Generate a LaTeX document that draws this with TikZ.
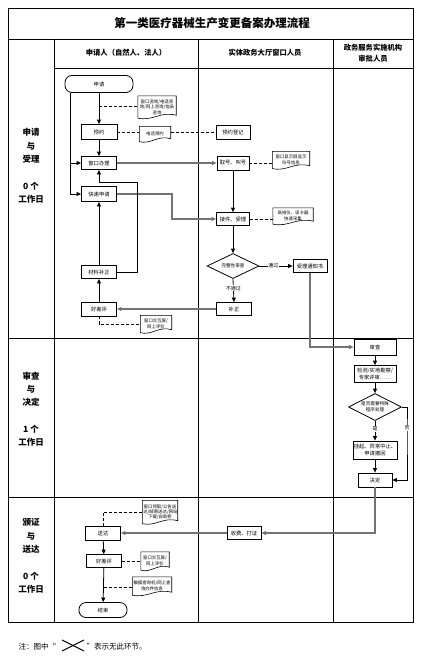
\documentclass[tikz,border=0pt]{standalone}
\usepackage{fontspec}
\setmainfont{Noto Sans CJK SC}
\usetikzlibrary{shapes.geometric,arrows.meta,calc}
\newcommand{\myfs}[2]{\fontsize{#1pt}{#2pt}\selectfont}
\newcommand{\docshape}[1]{\draw[line width=0.6pt] (#1.north west) -- (#1.north east) -- ($(#1.south east)+(0,-3)$) .. controls ($(#1.south)+(3,-7)$) and ($(#1.south)+(-4,3)$) .. (#1.south west) -- cycle;}
\begin{document}
\begin{tikzpicture}[x=1pt,y=-1pt,
  tbl/.style={line width=0.9pt},
  box/.style={draw,line width=0.8pt,inner sep=0pt,align=center,font=\myfs{5.3}{6.6}},
  term/.style={box,rounded corners=7pt},
  dia/.style={draw,diamond,aspect=2,line width=0.8pt,inner sep=0pt,align=center,font=\myfs{4.6}{5.8}},
  doc/.style={inner xsep=0.8pt,inner ysep=1pt,align=center,font=\myfs{4.4}{5.4}},
  arr/.style={line width=0.8pt,-{Triangle[length=4.5pt,width=4pt]}},
  garr/.style={line width=1.1pt,draw=black!55,-{Triangle[length=4.5pt,width=4pt,fill=black]}},
  dsh/.style={line width=0.7pt,dash pattern=on 3pt off 2pt},
  lbl/.style={fill=white,inner sep=0.6pt,font=\myfs{5}{6}},
  lane/.style={align=center,font=\bfseries\myfs{8.5}{13.3}},
  head/.style={align=center,font=\bfseries\myfs{7.3}{11}}]
\useasboundingbox (0,0) rectangle (424,661);
% table
\draw[tbl] (8,8) rectangle (413,622);
\draw[tbl] (8,39) -- (413,39);
\draw[tbl] (54,68) -- (413,68);
\draw[tbl] (8,338) -- (413,338);
\draw[tbl] (8,497) -- (413,497);
\draw[tbl] (54,39) -- (54,622);
\draw[tbl] (198,39) -- (198,622);
\draw[tbl] (333,39) -- (333,622);
\node[font=\bfseries\myfs{11.5}{13}] (title) at (212,23) {第一类医疗器械生产变更备案办理流程};
\node[head] (h1) at (126,53) {申请人（自然人、法人）};
\node[head] (h2) at (265,53) {实体政务大厅窗口人员};
\node[head] (h3) at (373,53) {政务服务实施机构\\审批人员};
\node[lane] (l1) at (31,166) {申请\\与\\受理\\[13.3pt]0 个\\工作日};
\node[lane] (l2) at (31,409) {审查\\与\\决定\\[13.3pt]1 个\\工作日};
\node[lane] (l3) at (31,556) {颁证\\与\\送达\\[13.3pt]0 个\\工作日};
% row 1 nodes
\node[term,minimum width=68pt,minimum height=17pt] (apply) at (99,84) {申请};
\node[doc,minimum height=22pt,text width=36.4pt] (dq) at (157,107) {窗口咨询/电话咨\\询/网上咨询/信函\\咨询};
\node[box,minimum width=36pt,minimum height=15pt] (yuyue) at (99,132) {预约};
\node[doc,minimum height=15pt,text width=29.4pt] (dy) at (155,134) {电话预约};
\node[box,minimum width=34pt,minimum height=14pt] (yydj) at (233,132) {预约登记};
\node[box,minimum width=35pt,minimum height=13pt] (window) at (99,163) {窗口办理};
\node[box,minimum width=32pt,minimum height=14pt] (quhao) at (233,163) {取号、叫号};
\node[doc,minimum height=17pt,text width=35.4pt] (dj) at (291,160) {窗口显示屏显示\\叫号信息};
\node[box,minimum width=35pt,minimum height=15pt] (fast) at (99,194) {快递申请};
\node[box,minimum width=33pt,minimum height=13pt] (jiejian) at (233,219) {接件、受理};
\node[doc,minimum height=16pt,text width=38.4pt] (dg) at (293,216) {高拍仪、读卡器\\快速采集};
\node[dia,minimum width=52pt,minimum height=25pt] (dia1) at (233,266) {完整性审查};
\node[box,minimum width=34pt,minimum height=13pt] (tzs) at (310,266) {受理通知书};
\node[box,minimum width=35pt,minimum height=13pt] (buzheng) at (234,309) {补正};
\node[box,minimum width=35pt,minimum height=13pt] (clbz) at (99,272) {材料补正};
\node[box,minimum width=35pt,minimum height=14pt] (hcp1) at (99,309) {好差评};
\node[doc,minimum height=17pt,text width=29.4pt] (de1) at (156,324) {窗口交互屏/\\网上评价};
% row 2 nodes
\node[box,minimum width=42pt,minimum height=16pt] (shencha) at (375,347) {审查};
\node[box,minimum width=42pt,minimum height=17pt] (jiance) at (375,374) {检测/实地勘察/\\专家评审……};
\node[dia,minimum width=53pt,minimum height=27pt] (dia2) at (375,407) {是否需要特殊\\程序处理};
\node[box,minimum width=44pt,minimum height=18pt] (guaqi) at (375,450) {挂起、异常中止、\\申请撤回};
\node[box,minimum width=34pt,minimum height=14pt] (jueding) at (375,480) {决定};
% row 3 nodes
\node[box,minimum width=34pt,minimum height=13pt] (shoufei) at (244,533) {收费、打证};
\node[box,minimum width=35pt,minimum height=14pt] (songda) at (103,533) {送达};
\node[doc,minimum height=23pt,text width=33.4pt] (ds) at (160,512) {窗口领取/公告送\\达/邮寄送达/网站\\下载/自助柜};
\node[box,minimum width=35pt,minimum height=13pt] (hcp2) at (104,561) {好差评};
\node[doc,minimum height=18pt,text width=26.4pt] (de2) at (155,561) {窗口交互屏/\\网上评价};
\node[doc,minimum height=18pt,text width=37.4pt] (dc) at (152,586) {触摸查询机/网上查\\询办件信息};
\node[term,minimum width=48pt,minimum height=15pt] (end) at (103,610) {结束};
% document shapes
\docshape{dq}
\docshape{dy}
\docshape{dj}
\docshape{dg}
\docshape{de1}
\docshape{ds}
\docshape{de2}
\docshape{dc}
% connectors row 1
\coordinate (c1) at (99,106);
\draw[arr] (apply) -- (yuyue);
\draw[dsh] (c1) -- (c1 -| dq.west);
\draw[dsh] (yuyue.east) -- (yuyue.east -| dy.west);
\draw[dsh] (yydj.west -| dy.east) -- (yydj.west);
\draw[arr] (yuyue) -- (window);
\draw[arr] ([xshift=6pt]apply.south west) |- (window.west);
\draw[arr] ([xshift=6pt]apply.south west) |- (fast.west);
\draw[garr] (window.east) -- (quhao.west);
\draw[dsh] (quhao.east) -- (quhao.east -| dj.west);
\draw[arr] (quhao) -- (jiejian);
\coordinate (c2) at (172,205);
\draw[garr] (fast.east) -| (c2) |- (jiejian.west);
\draw[dsh] (jiejian.east) -- (jiejian.east -| dg.west);
\draw[arr] (jiejian) -- (dia1);
\draw[arr] (dia1.east) -- (tzs.west) node[lbl,pos=0.42] (lpass) {通过};
\draw[arr] (dia1.south) -- (buzheng.north) node[lbl,pos=0.4] (lfail) {不通过};
\draw[garr] (buzheng.west) -- (hcp1.east);
\draw[arr] (hcp1) -- (clbz);
\draw[arr] (clbz) -- (fast);
\coordinate (c3) at (137,182);
\draw[arr] (clbz.east) -| (c3) -| (window.south);
\draw[dsh] (hcp1.south) |- (de1.west);
% row 2
\draw[garr] (tzs.south) |- (shencha.west);
\draw[arr] (shencha) -- (jiance);
\draw[arr] (jiance) -- (dia2);
\draw[arr] (dia2) -- (guaqi) node[lbl,pos=0.4] (lyes) {是};
\draw[arr] (guaqi) -- (jueding);
\coordinate (c4) at (407,430);
\draw[arr] (dia2.east) -| (c4) |- (jueding.east);
\node[lbl] (lno) at (407,428) {否};
% row 3
\draw[garr] (jueding.south) |- (shoufei.east);
\draw[garr] (shoufei.west) -- (songda.east);
\draw[dsh] (songda.north) |- (ds.west);
\draw[arr] (songda) -- (hcp2);
\draw[dsh] (hcp2.east) -- (hcp2.east -| de2.west);
\draw[arr] (hcp2) -- (end);
\coordinate (c5) at (104,587);
\draw[dsh] (c5) -- (c5 -| dc.west);
% footer
\node[anchor=west,font=\myfs{7.5}{9}] (n1) at (15,647) {注：图中“};
\draw[line width=1pt] (62,640) -- (84,651);
\draw[line width=1pt] (62,651) -- (84,640);
\node[anchor=west,font=\myfs{7.5}{9}] (n2) at (83,647) {”表示无此环节。};
\end{tikzpicture}
\end{document}
